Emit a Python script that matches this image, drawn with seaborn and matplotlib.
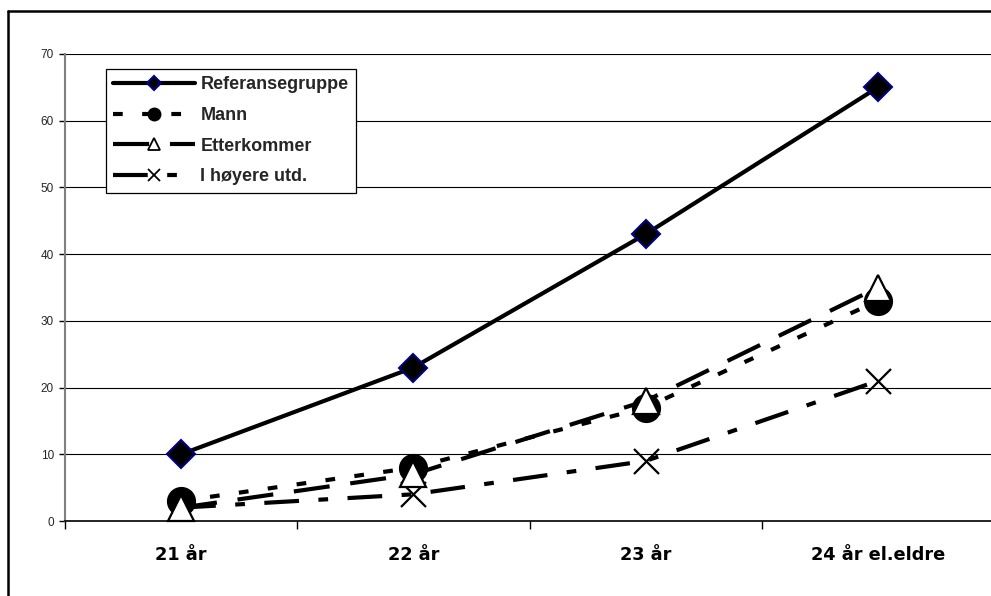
import matplotlib
matplotlib.use("Agg")
import matplotlib.pyplot as plt
from matplotlib.lines import Line2D
import numpy as np
import pandas as pd
import seaborn as sns

# Age groups on the x axis and the four series (percent)
categories = ["21 år", "22 år", "23 år", "24 år el.eldre"]
referansegruppe = [10, 23, 43, 65]
mann = [3, 8, 17, 33]
etterkommer = [2, 7, 18, 35]
hoyere_utd = [2, 4, 9, 21]
series_names = ["Referansegruppe", "Mann", "Etterkommer", "I høyere utd."]
yticks = [0, 10, 20, 30, 40, 50, 60, 70]

sns.set_theme(style="white")
plt.rcParams["font.family"] = ["Liberation Sans", "DejaVu Sans"]
plt.rcParams["lines.scale_dashes"] = False

df = pd.DataFrame({"alder": categories})
df["Referansegruppe"] = referansegruppe
df["Mann"] = mann
df["Etterkommer"] = etterkommer
df["I høyere utd."] = hoyere_utd
df["pos"] = np.arange(len(categories))

W, H = 991, 596
fig = plt.figure(figsize=(W / 100, H / 100), dpi=100)
fig.patch.set_facecolor("white")
ax = fig.add_axes([65 / W, (H - 521) / H, (994 - 65) / W, (521 - 54) / H])

lw = 3.0
dash_mann = (0, (7, 14))
dash_etter = (0, (26, 15))
dash_hoy = (0, (25, 14, 7, 14))
styles = {
    "Referansegruppe": dict(linestyle="-", marker="D", markersize=14,
                            markerfacecolor="black", markeredgecolor="#000080",
                            markeredgewidth=1.5),
    "Mann": dict(linestyle=dash_mann, marker="o", markersize=20,
                 markerfacecolor="black", markeredgecolor="black",
                 markeredgewidth=1.0),
    "Etterkommer": dict(linestyle=dash_etter, marker="^", markersize=19,
                        markerfacecolor="white", markeredgecolor="black",
                        markeredgewidth=1.6),
    "I høyere utd.": dict(linestyle=dash_hoy, marker="x",
                          markersize=18, markeredgecolor="black",
                          markeredgewidth=1.6),
}
zorders = {"Referansegruppe": 5, "Mann": 3, "Etterkommer": 4, "I høyere utd.": 3}

for name in series_names:
    sns.lineplot(data=df, x="pos", y=name, ax=ax, color="black", linewidth=lw,
                 zorder=zorders[name], clip_on=False, legend=False,
                 **styles[name])

ax.set_xlim(-0.5, len(categories) - 0.5)
ax.set_ylim(0, 70)
ax.set_xlabel("")
ax.set_ylabel("")

ax.set_xticks(np.arange(len(categories)))
ax.set_xticklabels(categories, fontsize=12.8, fontweight="bold",
                   family=["DejaVu Sans"])
ax.set_xticks(np.arange(-0.5, len(categories), 1.0), minor=True)
ax.tick_params(axis="x", which="major", length=0, pad=18, colors="black")
ax.tick_params(axis="x", which="minor", length=6, width=1, direction="out",
               color="black", bottom=True)
ax.set_yticks(yticks)
ax.set_yticklabels([str(v) for v in yticks], fontsize=8.5)
ax.tick_params(axis="y", length=4, width=1, direction="out", color="black",
               left=True, pad=4)

ax.grid(axis="y", color="black", linewidth=0.8)
ax.set_axisbelow(True)
for side in ("top", "right"):
    ax.spines[side].set_visible(False)
ax.spines["left"].set_color("#808080")
ax.spines["left"].set_linewidth(1.5)
ax.spines["bottom"].set_color("black")
ax.spines["bottom"].set_linewidth(1.2)

# Legend keys with smaller symbols
handles = [
    Line2D([], [], color="black", lw=lw, linestyle="-", marker="D", markersize=7,
           markerfacecolor="black", markeredgecolor="#000080", markeredgewidth=1.5),
    Line2D([], [], color="black", lw=lw, linestyle=dash_mann, marker="o",
           markersize=9, markerfacecolor="black", markeredgecolor="black"),
    Line2D([], [], color="black", lw=lw, linestyle=dash_etter, marker="^",
           markersize=8, markerfacecolor="white", markeredgecolor="black",
           markeredgewidth=1.3),
    Line2D([], [], color="black", lw=lw, linestyle=dash_hoy,
           marker="x", markersize=8, markeredgecolor="black", markeredgewidth=1.3),
]
leg = ax.legend(handles, series_names, loc="upper left",
                bbox_to_anchor=((106 - 65) / (994 - 65), (521 - 69) / (521 - 54)),
                frameon=True, fancybox=False, shadow=False, framealpha=1,
                edgecolor="black", handlelength=4.55, handletextpad=0.28,
                borderpad=0.4, labelspacing=0.76, borderaxespad=0,
                prop={"weight": "bold", "size": 13})
leg.get_frame().set_linewidth(0.9)
leg.set_zorder(10)

# Outer chart border (left and top edges)
fig.add_artist(Line2D([8 / W, 8 / W], [0, 1 - 11 / H], color="black", lw=1.8,
                      transform=fig.transFigure))
fig.add_artist(Line2D([8 / W, 1.0], [1 - 11 / H, 1 - 11 / H], color="black",
                      lw=1.8, transform=fig.transFigure))

fig.savefig("out.png", dpi=100, facecolor="white")
